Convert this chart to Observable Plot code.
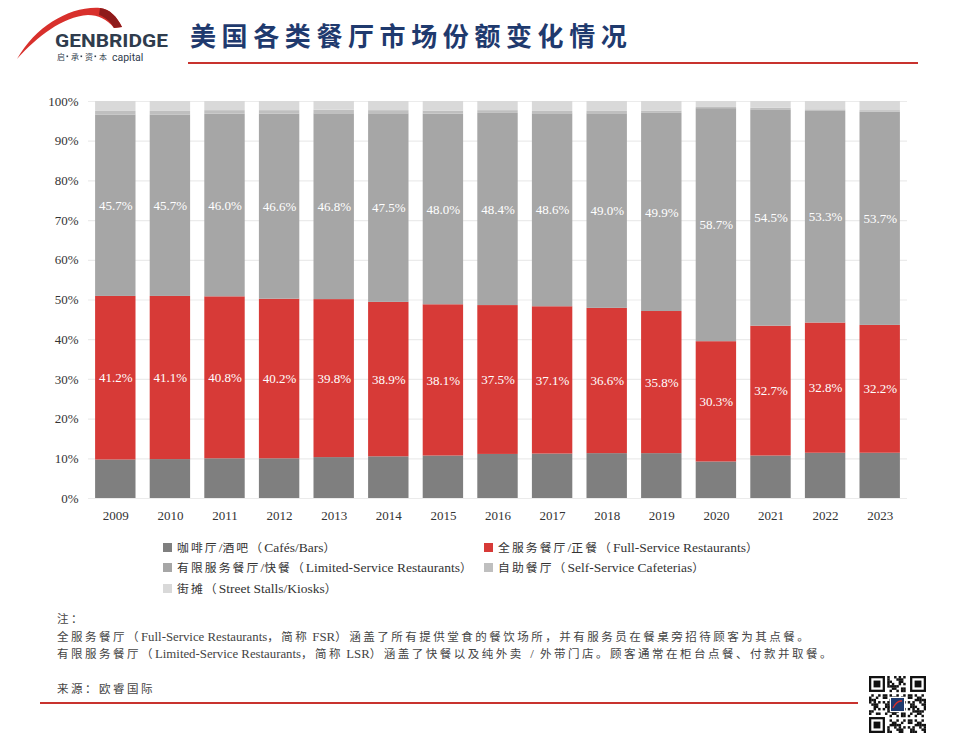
<!DOCTYPE html>
<html><head><meta charset="utf-8">
<script src="https://cdn.jsdelivr.net/npm/d3@7"></script>
<script src="https://cdn.jsdelivr.net/npm/@observablehq/plot@0.6"></script>
<style>
body{margin:0;background:#fff;}
#page{position:relative;width:960px;height:749px;overflow:hidden;font-family:"Liberation Serif","Noto Sans CJK SC",serif;color:#333;}
.abs{position:absolute;white-space:nowrap;}
.cjk{font-family:"Noto Sans CJK SC",sans-serif;}
#chart{position:absolute;left:0;top:0;}
.sq{position:absolute;width:9px;height:9px;}
</style></head><body><div id="page">
<svg class="abs" style="left:0;top:0" width="185" height="66">
  <path d="M17,59 C36,26 70,6 100,8 C110,9 117,17 122,27 L114,28 C107,19 98,15 88,15 C62,17 38,36 17,59 Z" fill="#d8302c"/>
  <path d="M100,8 C110,9 117,17 122,27 L114,28 C110,21 105,17 99,15 Z" fill="#8e1b1b"/>
  <text x="55" y="46.5" font-family="Roboto, 'DejaVu Sans', sans-serif" font-weight="700" font-size="18.5" fill="#2f3c4d" textLength="113" lengthAdjust="spacingAndGlyphs">GENBRIDGE</text>
  <text x="57" y="60" font-family="'Noto Sans CJK SC', sans-serif" font-size="8" fill="#2f3c4d">启</text>
  <text x="71" y="60" font-family="'Noto Sans CJK SC', sans-serif" font-size="8" fill="#2f3c4d">承</text>
  <text x="85" y="60" font-family="'Noto Sans CJK SC', sans-serif" font-size="8" fill="#2f3c4d">资</text>
  <text x="99" y="60" font-family="'Noto Sans CJK SC', sans-serif" font-size="8" fill="#2f3c4d">本</text>
  <rect x="66.5" y="55.5" width="1.6" height="1.6" fill="#2f3c4d"/>
  <rect x="80.5" y="55.5" width="1.6" height="1.6" fill="#2f3c4d"/>
  <rect x="94.5" y="55.5" width="1.6" height="1.6" fill="#2f3c4d"/>
  <text x="112" y="60.5" font-family="Roboto, sans-serif" font-size="10.5" fill="#2f3c4d">capital</text>
</svg>
<div class="abs cjk" id="title" style="left:190px;top:17px;font-size:26px;letter-spacing:5.6px;color:#1f3a6e;font-weight:700;line-height:36px;">美国各类餐厅市场份额变化情况</div>
<div class="abs" style="left:188px;top:62px;width:730px;height:2px;background:#c8322e;"></div>
<div id="chart"></div>
<div id="legend"></div>
<div id="notes"></div>
<div class="abs" style="left:40px;top:702px;width:818px;height:2px;background:#c8322e;"></div>
<svg class="abs" id="qr" style="left:869px;top:676px" width="57" height="57"></svg>
</div>
<script>
const years = [2009,2010,2011,2012,2013,2014,2015,2016,2017,2018,2019,2020,2021,2022,2023];
const cafesBars = [9.7,9.8,10.0,10.0,10.3,10.5,10.7,11.1,11.2,11.3,11.3,9.2,10.7,11.4,11.4];
const fullService = [41.2,41.1,40.8,40.2,39.8,38.9,38.1,37.5,37.1,36.6,35.8,30.3,32.7,32.8,32.2];
const limitedService = [45.7,45.7,46.0,46.6,46.8,47.5,48.0,48.4,48.6,49.0,49.9,58.7,54.5,53.3,53.7];
const cafeterias = [0.9,0.9,0.9,0.9,0.9,0.8,0.8,0.7,0.6,0.6,0.6,0.3,0.4,0.4,0.4];
const streetStalls = [2.5,2.5,2.3,2.3,2.2,2.3,2.4,2.3,2.5,2.5,2.4,1.5,1.7,2.1,2.3];
const seriesNames = ["咖啡厅/酒吧（Cafés/Bars）","全服务餐厅/正餐（Full-Service Restaurants）","有限服务餐厅/快餐（Limited-Service Restaurants）","自助餐厅（Self-Service Cafeterias）","街摊（Street Stalls/Kiosks）"];
const seriesColors = ["#7f7f7f","#d73a37","#a6a6a6","#bfbfbf","#d9d9d9"];
const yTicks = [0,10,20,30,40,50,60,70,80,90,100];
const labelledSeries = [seriesNames[1], seriesNames[2]];

const seriesValues = [cafesBars, fullService, limitedService, cafeterias, streetStalls];
const rows = [];
years.forEach((yr, i) => seriesNames.forEach((s, k) => rows.push({year: String(yr), series: s, value: seriesValues[k][i]})));

const chart = Plot.plot({
  width: 960, height: 530,
  marginLeft: 88, marginRight: 53, marginTop: 101, marginBottom: 32,
  style: {fontFamily: '"Liberation Serif", serif', fontSize: "13px", color: "#333", background: "transparent"},
  x: {type: "band", domain: years.map(String), paddingInner: 0.26, paddingOuter: 0.13, round: false, label: null, tickSize: 0, tickPadding: 12},
  y: {domain: [0, 100], ticks: yTicks, tickFormat: d => d + "%", label: null, tickSize: 0, tickPadding: 10},
  color: {domain: seriesNames, range: seriesColors},
  marks: [
    Plot.gridY(yTicks, {stroke: "#ebebeb", strokeOpacity: 1, strokeWidth: 1.2}),
    Plot.barY(rows, Plot.stackY({x: "year", y: "value", fill: "series"})),
    Plot.text(rows, Plot.stackY({x: "year", y: "value", z: "series",
      text: d => labelledSeries.includes(d.series) ? d.value.toFixed(1) + "%" : null,
      fill: "white", fontSize: 13}))
  ]
});
document.getElementById("chart").appendChild(chart);

// helper: split mixed text into CJK / Latin spans
function mixed(el, str, cjkSize, latSize, cjkSpacing) {
  const re = /[\u3000-\u303f\u4e00-\u9fff\uff00-\uffef]+|[^\u3000-\u303f\u4e00-\u9fff\uff00-\uffef]+/g;
  (str.match(re) || []).forEach(part => {
    const sp = document.createElement("span");
    sp.textContent = part;
    if (/[\u3000-\u303f\u4e00-\u9fff\uff00-\uffef]/.test(part)) {
      sp.className = "cjk"; sp.style.fontSize = cjkSize + "px"; sp.style.letterSpacing = cjkSpacing + "px";
    } else { sp.style.fontSize = latSize + "px"; sp.style.whiteSpace = "pre"; }
    el.appendChild(sp);
  });
}

// legend
const legendPos = [[163,547],[484,547],[163,567],[484,567],[163,588]];
const lg = document.getElementById("legend");
seriesNames.forEach((s, k) => {
  const [x, y] = legendPos[k];
  const sq = document.createElement("div");
  sq.className = "sq"; sq.style.left = x + "px"; sq.style.top = (y - 4.5) + "px"; sq.style.background = seriesColors[k];
  lg.appendChild(sq);
  const t = document.createElement("div");
  t.className = "abs"; t.style.left = (x + 14) + "px"; t.style.top = (y - 10) + "px"; t.style.lineHeight = "20px"; t.style.color = "#333";
  mixed(t, s, 11.8, 13.5, 2.1);
  lg.appendChild(t);
});

// notes
const notes = [
  ["注：", 618],
  ["全服务餐厅（Full-Service Restaurants，简称 FSR）涵盖了所有提供堂食的餐饮场所，并有服务员在餐桌旁招待顾客为其点餐。", 636],
  ["有限服务餐厅（Limited-Service Restaurants，简称 LSR）涵盖了快餐以及纯外卖  /  外带门店。顾客通常在柜台点餐、付款并取餐。", 653],
  ["来源：欧睿国际", 688]
];
const nt = document.getElementById("notes");
notes.forEach(([s, y]) => {
  const t = document.createElement("div");
  t.className = "abs"; t.style.left = "57px"; t.style.top = (y - 10) + "px"; t.style.lineHeight = "20px"; t.style.color = "#444";
  mixed(t, s, 11.5, 12.8, 2.5);
  nt.appendChild(t);
});

// QR code decoration
const qr = d3.select("#qr");
const n = 25, c = 57 / n;
for (let i = 0; i < n; i++) for (let j = 0; j < n; j++) {
  const inFinder = (i < 8 && j < 8) || (i < 8 && j >= n - 8) || (i >= n - 8 && j < 8);
  if (inFinder) continue;
  if (((i * 31 + j * 17 + i * j * 7) % 11) < 5) qr.append("rect").attr("x", j * c).attr("y", i * c).attr("width", c + 0.2).attr("height", c + 0.2).attr("fill", "#111");
}
[[0,0],[0,n-7],[n-7,0]].forEach(([i,j]) => {
  qr.append("rect").attr("x", j*c + c/2).attr("y", i*c + c/2).attr("width", 6*c).attr("height", 6*c).attr("fill", "none").attr("stroke", "#111").attr("stroke-width", c);
  qr.append("rect").attr("x", (j+2)*c).attr("y", (i+2)*c).attr("width", 3*c).attr("height", 3*c).attr("fill", "#111");
});
qr.append("rect").attr("x", 21).attr("y", 21).attr("width", 15).attr("height", 15).attr("fill", "#fff");
qr.append("rect").attr("x", 22).attr("y", 22).attr("width", 13).attr("height", 13).attr("fill", "#1f3a6e");
qr.append("path").attr("d", "M24,32 Q28,24 33,25").attr("stroke", "#d8302c").attr("stroke-width", 1.5).attr("fill", "none");
</script>
</body></html>
